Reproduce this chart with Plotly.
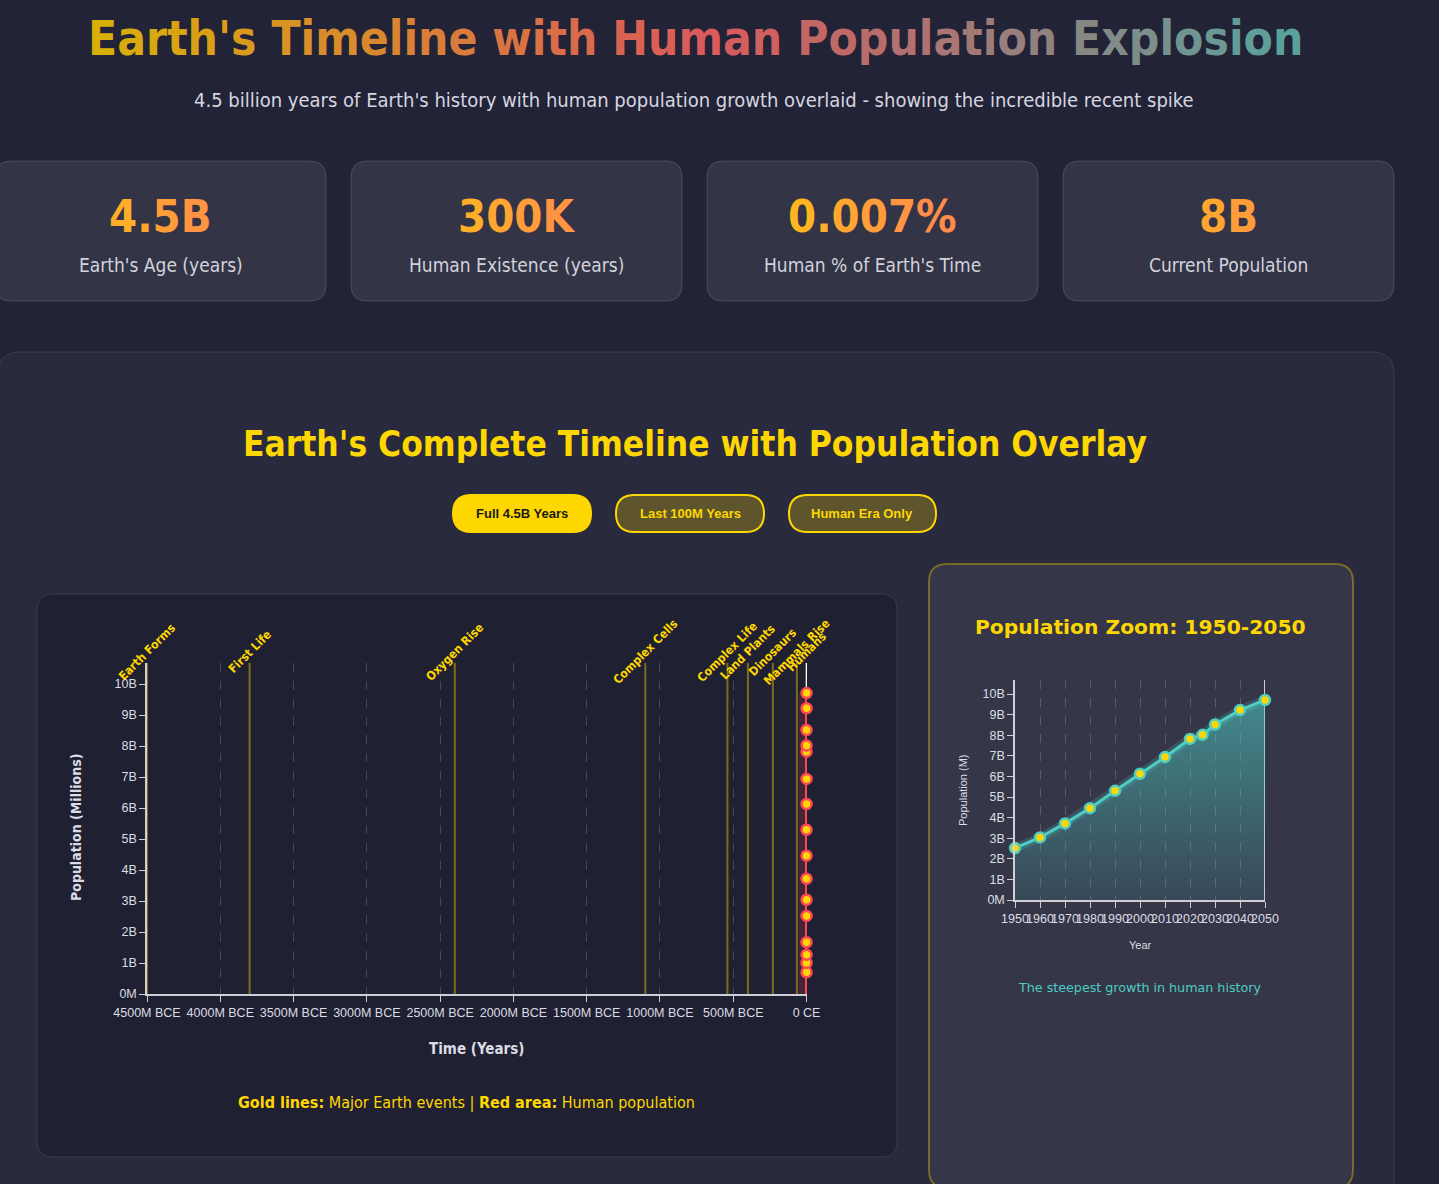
import plotly.graph_objects as go

W, H = 1439, 1184

# ---- data ----
stat_values = ["4.5B", "300K", "0.007%", "8B"]
stat_labels = ["Earth's Age (years)", "Human Existence (years)", "Human % of Earth's Time", "Current Population"]

button_labels = ["Full 4.5B Years", "Last 100M Years", "Human Era Only"]

event_names = ["Earth Forms", "First Life", "Oxygen Rise", "Complex Cells", "Complex Life",
               "Land Plants", "Dinosaurs", "Mammals Rise", "Humans"]
event_mya = [-4500, -3800, -2400, -1100, -540, -400, -230, -66, -0.3]

# human population (millions) - early era and recorded years
early_years = [-300000, -10000, 1, 1000, 1500]
early_pop = [0.1, 4, 190, 275, 450]
modern_years = [1750, 1800, 1850, 1900, 1950, 1960, 1970, 1980, 1990, 2000,
                2010, 2020, 2025, 2030, 2040, 2050]
modern_pop = [700, 1000, 1270, 1670, 2520, 3040, 3720, 4460, 5300, 6130,
              6940, 7820, 8020, 8520, 9220, 9710]

x_tick_vals = [-4500, -4000, -3500, -3000, -2500, -2000, -1500, -1000, -500, 0]
x_tick_text = ["4500M BCE", "4000M BCE", "3500M BCE", "3000M BCE", "2500M BCE",
               "2000M BCE", "1500M BCE", "1000M BCE", "500M BCE", "0 CE"]
y_tick_vals = [0, 1000, 2000, 3000, 4000, 5000, 6000, 7000, 8000, 9000, 10000]
y_tick_text = ["0M", "1B", "2B", "3B", "4B", "5B", "6B", "7B", "8B", "9B", "10B"]
zoom_ticks = [1950, 1960, 1970, 1980, 1990, 2000, 2010, 2020, 2030, 2040, 2050]

COND = "DejaVu Sans Condensed, DejaVu Sans, sans-serif"
ARIAL = "Liberation Sans, Arial, sans-serif"
DV = "DejaVu Sans, sans-serif"
GOLD = "#FFD700"


def X(px):
    return px / W


def Y(py):
    return 1 - py / H


def rrect(x0, y0, x1, y1, r, fill, line, lw=1):
    p = (f"M {X(x0 + r)},{Y(y0)} L {X(x1 - r)},{Y(y0)} Q {X(x1)},{Y(y0)} {X(x1)},{Y(y0 + r)} "
         f"L {X(x1)},{Y(y1 - r)} Q {X(x1)},{Y(y1)} {X(x1 - r)},{Y(y1)} "
         f"L {X(x0 + r)},{Y(y1)} Q {X(x0)},{Y(y1)} {X(x0)},{Y(y1 - r)} "
         f"L {X(x0)},{Y(y0 + r)} Q {X(x0)},{Y(y0)} {X(x0 + r)},{Y(y0)} Z")
    return dict(type="path", path=p, xref="paper", yref="paper", fillcolor=fill,
                line=dict(color=line, width=lw), layer="below")


def hex2rgb(h):
    h = h.lstrip("#")
    return [int(h[i:i + 2], 16) for i in (0, 2, 4)]


def mix(stops, t):
    t = min(max(t, 0), 1)
    n = len(stops) - 1
    i = min(int(t * n), n - 1)
    f = t * n - i
    a, b = hex2rgb(stops[i]), hex2rgb(stops[i + 1])
    return "#%02x%02x%02x" % tuple(round(a[k] + (b[k] - a[k]) * f) for k in range(3))


def grad_text(text, stops, t0, t1):
    # colour every character along a gradient (css background-clip imitation)
    out = []
    n = len(text)
    for i, ch in enumerate(text):
        t = t0 + (t1 - t0) * (i + 0.5) / n
        out.append(f"<span style='color:{mix(stops, t)}'>{ch}</span>")
    return "".join(out)


def label(text, px, py, size, color=None, family=COND, angle=0):
    f = dict(family=family, size=size)
    if color:
        f["color"] = color
    return dict(text=text, x=X(px), y=Y(py), xref="paper", yref="paper", showarrow=False,
                xanchor="center", yanchor="middle", textangle=angle, font=f)


fig = go.Figure()

# ---- main timeline chart ----
ymax = max(modern_pop) * 1.1
all_x = [y / 1e6 for y in early_years + modern_years]
all_pop = early_pop + modern_pop
mod_x = [y / 1e6 for y in modern_years]

fig.add_trace(go.Scatter(x=all_x, y=all_pop, mode="lines", fill="tozeroy",
                         fillcolor="rgba(255,71,87,0.3)",
                         line=dict(color="rgba(255,71,87,0.16)", width=16),
                         hoverinfo="skip", showlegend=False))
fig.add_trace(go.Scatter(x=all_x, y=all_pop, mode="lines",
                         line=dict(color="#ff4757", width=3),
                         showlegend=False, name="Population"))
fig.add_trace(go.Scatter(x=mod_x, y=modern_pop, mode="markers", cliponaxis=False,
                         marker=dict(size=10, color=GOLD, line=dict(color="#ff4757", width=2.5)),
                         showlegend=False, name="Population"))

# ---- zoom chart ----
zy = [y for y in modern_years if y >= 1950]
zp = [p for y, p in zip(modern_years, modern_pop) if y >= 1950]
fig.add_trace(go.Scatter(x=zy, y=zp, mode="lines", xaxis="x2", yaxis="y2",
                         fill="tozeroy",
                         fillgradient=dict(type="vertical",
                                           colorscale=[[0, "rgba(78,205,196,0.12)"],
                                                       [1, "rgba(78,205,196,0.55)"]]),
                         line=dict(color="rgba(78,205,196,0.2)", width=9),
                         hoverinfo="skip", showlegend=False))
fig.add_trace(go.Scatter(x=zy, y=zp, mode="lines+markers", xaxis="x2", yaxis="y2",
                         cliponaxis=False,
                         line=dict(color="#4ecdc4", width=3),
                         marker=dict(size=10, color=GOLD, line=dict(color="#4ecdc4", width=2.5)),
                         showlegend=False, name="Population"))

shapes = []
# page panels
shapes.append(rrect(-2, 352, 1394, 1240, 22, "rgba(255,255,255,0.035)", "rgba(255,255,255,0.1)"))
card_x = [-5, 351, 707, 1063]
for cx in card_x:
    shapes.append(rrect(cx, 161, cx + 331, 301, 16, "rgba(255,255,255,0.08)", "rgba(255,255,255,0.14)"))
shapes.append(rrect(37, 594, 897, 1157, 16, "rgba(20,20,35,0.45)", "rgba(255,255,255,0.1)"))
shapes.append(rrect(929, 564, 1353, 1188, 18, "rgba(255,255,255,0.06)", "rgba(255,215,0,0.35)", 2))

# buttons
btn_x = [(453, 591), (616, 764), (789, 936)]
for i, (b0, b1) in enumerate(btn_x):
    if i == 0:
        shapes.append(rrect(b0, 495, b1, 532, 18.5, GOLD, GOLD, 2))
    else:
        shapes.append(rrect(b0, 495, b1, 532, 18.5, "rgba(255,215,0,0.25)", GOLD, 2))

# event lines
for e in event_mya:
    shapes.append(dict(type="line", xref="x", yref="y domain", x0=e, x1=e, y0=0, y1=1,
                       line=dict(color="rgba(255,215,0,0.42)", width=2), layer="below"))
shapes.append(dict(type="line", xref="x", yref="y domain", x0=0, x1=0, y0=0, y1=1,
                   line=dict(color="white", width=1.5), layer="below"))
shapes.append(dict(type="line", xref="x2", yref="y2 domain", x0=2050, x1=2050, y0=0, y1=1,
                   line=dict(color="white", width=1.5), layer="below"))

ann = []
# title with gradient
title = "Earth's Timeline with Human Population Explosion"
ann.append(label("<b>" + grad_text(title, ["#d9b700", "#d95b5b", "#42aea7"], 0.04, 0.93) + "</b>",
                 695, 39, 47.5))
ann.append(label("4.5 billion years of Earth's history with human population growth overlaid - showing the incredible recent spike",
                 694, 100, 20, "#d6d6e0"))

# stat cards
for cx, v, lab in zip(card_x, stat_values, stat_labels):
    w = len(v) * 26
    t0 = (165 - w / 2) / 331
    t1 = (165 + w / 2) / 331
    ann.append(label("<b>" + grad_text(v, ["#FFD700", "#FF6B6B"], t0, t1) + "</b>", cx + 165.5, 216, 45))
    ann.append(label(lab, cx + 165.5, 265, 19, "#d2d2dc"))

# section title + buttons
ann.append(label("<b>Earth's Complete Timeline with Population Overlay</b>", 695, 444, 35, GOLD))
for i, ((b0, b1), lab) in enumerate(zip(btn_x, button_labels)):
    ann.append(label(f"<b>{lab}</b>", (b0 + b1) / 2, 513.5, 13, "#1a1a1a" if i == 0 else GOLD, ARIAL))

# event labels
for name, e in zip(event_names, event_mya):
    ann.append(dict(text=f"<b>{name}</b>", x=e, y=1, xref="x", yref="y domain",
                    xanchor="center", yanchor="middle", yshift=11, textangle=-45,
                    showarrow=False, font=dict(family=COND, size=12, color=GOLD)))

# axis titles & notes
ann.append(label("<b>Population (Millions)</b>", 76, 828, 14, "#dcdce4", angle=-90))
ann.append(label("<b>Time (Years)</b>", 477, 1049, 15, "#dcdce4"))
ann.append(label("<b>Gold lines:</b> Major Earth events | <b>Red area:</b> Human population",
                 466, 1102, 16, GOLD))

ann.append(label("<b>Population Zoom: 1950-2050</b>", 1140, 627, 20.3, GOLD, DV))
ann.append(label("Population (M)", 963, 790, 11, "#dcdce4", ARIAL, -90))
ann.append(label("Year", 1140, 945, 11, "#dcdce4", ARIAL))
ann.append(label("The steepest growth in human history", 1140, 987, 12.7, "#4ecdc4", DV))

axis_common = dict(showline=True, linecolor="#cfcfd6", linewidth=1.5, ticks="outside",
                   ticklen=6, tickcolor="#cfcfd6", zeroline=False, tickangle=0, automargin=False)
tick13 = dict(family=ARIAL, size=12.5, color="#dcdce4")
tick12 = dict(family=ARIAL, size=12.5, color="#dcdce4")

fig.update_layout(
    template="none",
    width=W, height=H,
    margin=dict(l=0, r=0, t=0, b=0, pad=0, autoexpand=False),
    paper_bgcolor="#222336",
    plot_bgcolor="rgba(0,0,0,0)",
    showlegend=False,
    shapes=shapes,
    annotations=ann,
    xaxis=dict(domain=[X(147), X(807)], range=[-4500, 3], tickvals=x_tick_vals, ticktext=x_tick_text,
               showgrid=True, gridcolor="rgba(255,255,255,0.18)", griddash="dash", gridwidth=1,
               anchor="y", tickfont=tick13, **axis_common),
    yaxis=dict(domain=[Y(994), Y(663)], range=[0, ymax], tickvals=y_tick_vals, ticktext=y_tick_text,
               showgrid=False, anchor="x", tickfont=tick13, **axis_common),
    xaxis2=dict(domain=[X(1015), X(1265)], range=[1950, 2050], tickvals=zoom_ticks,
                ticktext=[str(t) for t in zoom_ticks],
                showgrid=True, gridcolor="rgba(255,255,255,0.18)", griddash="dash", gridwidth=1,
                anchor="y2", tickfont=tick12, **axis_common),
    yaxis2=dict(domain=[Y(900), Y(680)], range=[0, ymax], tickvals=y_tick_vals, ticktext=y_tick_text,
                showgrid=False, anchor="x2", tickfont=tick12, **axis_common),
)

fig.write_html("out.html", config={"displayModeBar": False},
               post_script="document.body.style.margin='0';document.body.style.background='#222336';")
